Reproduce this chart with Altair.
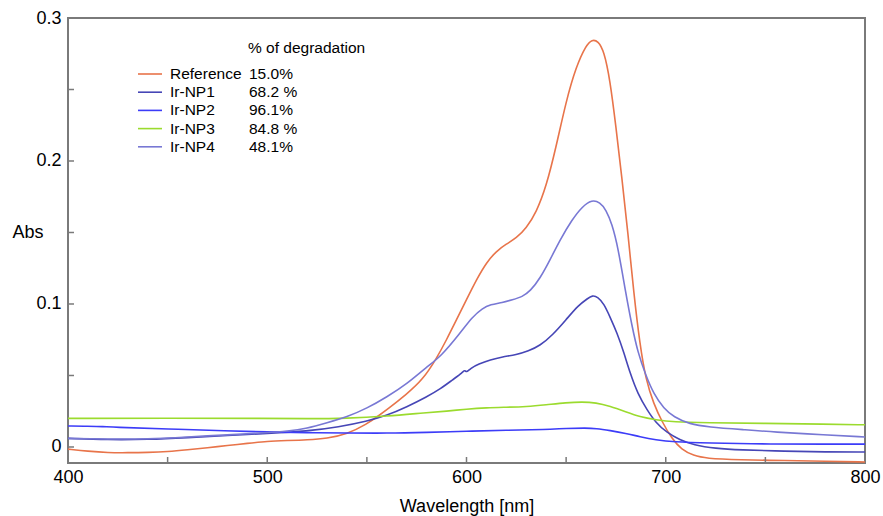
import altair as alt
import pandas as pd

# UV-Vis absorbance spectra after degradation
series_names = ["Reference", "Ir-NP1", "Ir-NP2", "Ir-NP3", "Ir-NP4"]
degradation = ["15.0%", "68.2 %", "96.1%", "84.8 %", "48.1%"]
series_colors = ["#E8744A", "#4646B6", "#3C3CF8", "#9BDB2E", "#7878D4"]

ref_wl = [400, 410, 420, 430, 440, 450, 460, 470, 480, 490, 500, 510, 520, 530, 540,
          550, 556, 560, 570, 578, 585, 590, 595, 600, 605, 610, 615, 620, 625, 630,
          635, 640, 645, 650, 655, 660, 663, 666, 669, 672, 675, 678, 681, 684, 687,
          690, 694, 698, 703, 708, 714, 720, 737, 760, 780, 800]
ref_abs = [-0.0015, -0.003, -0.004, -0.004, -0.0038, -0.0033, -0.002, -0.0005, 0.001, 0.0025,
           0.004, 0.0045, 0.005, 0.006, 0.009, 0.016, 0.022, 0.026, 0.037, 0.047,
           0.062, 0.075, 0.089, 0.103, 0.117, 0.129, 0.137, 0.142, 0.146, 0.153,
           0.164, 0.182, 0.210, 0.242, 0.266, 0.281, 0.285, 0.284, 0.277, 0.257,
           0.224, 0.188, 0.150, 0.107, 0.072, 0.047, 0.030, 0.018, 0.006, -0.002,
           -0.006, -0.008, -0.009, -0.0095, -0.010, -0.0105]

np1_wl = [400, 420, 440, 460, 480, 500, 520, 536, 550, 560, 570, 580, 587, 593, 598,
          599, 600, 602, 606, 612, 618, 625, 631, 637, 643, 650, 656, 661, 663, 666,
          669, 672, 675.5, 679, 682, 686, 690.6, 695, 700.6, 707, 714, 725, 737, 760,
          780, 800]
np1_abs = [0.006, 0.005, 0.0052, 0.0065, 0.008, 0.0095, 0.011, 0.014, 0.018, 0.022,
           0.028, 0.035, 0.0407, 0.047, 0.052, 0.054, 0.052, 0.055, 0.058, 0.061,
           0.063, 0.0646, 0.067, 0.071, 0.078, 0.089, 0.099, 0.104, 0.106, 0.105,
           0.100, 0.091, 0.080, 0.066, 0.052, 0.037, 0.026, 0.017, 0.010, 0.005,
           0.0014, -0.001, -0.002, -0.003, -0.0035, -0.0035]

np2_wl = [400, 410, 418, 422, 450, 480, 500, 520, 540, 560, 580, 600, 620, 640, 650,
          660, 665, 672, 680, 687, 695, 704, 720, 754, 780, 800]
np2_abs = [0.0147, 0.0145, 0.0143, 0.0138, 0.0126, 0.0113, 0.0105, 0.0100, 0.0098, 0.0096,
           0.0102, 0.0110, 0.0117, 0.0122, 0.0130, 0.0133, 0.0130, 0.0115, 0.0095, 0.0072,
           0.0050, 0.0035, 0.0028, 0.0020, 0.0020, 0.0020]

np3_wl = [400, 450, 500, 520, 540, 560, 580, 590, 600, 610, 620, 630, 640, 650, 658,
          665, 672, 680, 687, 695, 704, 720, 750, 780, 800]
np3_abs = [0.0200, 0.0202, 0.0200, 0.0198, 0.0200, 0.0215, 0.0240, 0.0250, 0.0265, 0.0275,
           0.0278, 0.0282, 0.0295, 0.0310, 0.0316, 0.0310, 0.0285, 0.0245, 0.0210, 0.0190,
           0.0175, 0.0170, 0.0165, 0.0160, 0.0155]

np4_wl = [400, 420, 440, 460, 480, 500, 510, 520, 530, 540, 550, 560, 570, 580, 587,
          597, 603, 608, 612, 618, 623, 628, 632, 637, 642, 647, 653, 658, 663, 667,
          670, 673, 676, 680, 683, 686, 690, 694, 699, 704, 712, 721, 740, 754, 780, 800]
np4_abs = [0.006, 0.0055, 0.0055, 0.007, 0.0085, 0.010, 0.011, 0.013, 0.017, 0.021,
           0.027, 0.035, 0.044, 0.056, 0.063, 0.080, 0.091, 0.097, 0.0996, 0.101,
           0.103, 0.105, 0.109, 0.118, 0.131, 0.145, 0.159, 0.168, 0.173, 0.171,
           0.166, 0.156, 0.140, 0.107, 0.085, 0.066, 0.050, 0.037, 0.027, 0.021,
           0.016, 0.014, 0.012, 0.0105, 0.0085, 0.007]

x_tick_values = [450, 500, 550, 600, 650, 700, 750]
y_tick_values = [0.0, 0.05, 0.1, 0.15, 0.2, 0.25]

PLOT_W, PLOT_H = 797, 445
FONT = "Liberation Sans"
FRAME = "#7a7a7a"

spectra = [ref_wl, np1_wl, np2_wl, np3_wl, np4_wl]
absorb = [ref_abs, np1_abs, np2_abs, np3_abs, np4_abs]
rows = []
for name, wl, ab in zip(series_names, spectra, absorb):
    for w, a in zip(wl, ab):
        rows.append({"series": name, "wavelength": w, "abs": a})
df = pd.DataFrame(rows)

x_scale = alt.Scale(domain=[400, 800], nice=False, zero=False)
y_scale = alt.Scale(domain=[-0.0112, 0.3], nice=False, zero=False)
color_scale = alt.Scale(domain=series_names, range=series_colors)

lines = alt.Chart(df).mark_line(strokeWidth=1.6, interpolate="basis", clip=True).encode(
    x=alt.X("wavelength:Q", scale=x_scale,
            axis=alt.Axis(values=[400, 500, 600, 700, 800], format="d", domain=False,
                          ticks=False, grid=False, labelFlush=False, labelOverlap=False,
                          labelFont=FONT, labelFontSize=18,
                          labelColor="#000", labelPadding=5, title="Wavelength [nm]",
                          titleFont=FONT, titleFontSize=18, titleFontWeight="normal",
                          titleColor="#000", titlePadding=11)),
    y=alt.Y("abs:Q", scale=y_scale,
            axis=alt.Axis(values=[0, 0.1, 0.2, 0.3], domain=False, ticks=False, grid=False,
                          labelExpr="datum.value == 0 ? '0' : format(datum.value, '.1f')",
                          labelFlush=False, labelOverlap=False,
                          labelFont=FONT, labelFontSize=18, labelColor="#000", labelPadding=7,
                          title="Abs", titleAngle=0, titleAlign="left", titleBaseline="middle",
                          titleX=-56, titleY=214, titleFont=FONT, titleFontSize=18,
                          titleFontWeight="normal", titleColor="#000")),
    color=alt.Color("series:N", scale=color_scale, legend=None),
    detail="series:N",
)

# inward-pointing ticks along the bottom and left frame
x_ticks = alt.Chart(pd.DataFrame({"w": x_tick_values})).mark_rule(
    color=FRAME, strokeWidth=1.5).encode(
    x=alt.X("w:Q", scale=x_scale), y=alt.value(PLOT_H), y2=alt.value(PLOT_H - 6))
y_ticks = alt.Chart(pd.DataFrame({"a": y_tick_values})).mark_rule(
    color=FRAME, strokeWidth=1.5).encode(
    y=alt.Y("a:Q", scale=y_scale), x=alt.value(0), x2=alt.value(6))

# legend block: header, swatches, names and degradation percentages
leg_layers = []
header = alt.Chart(pd.DataFrame({"t": ["% of degradation"]})).mark_text(
    font=FONT, fontSize=15.5, align="left", baseline="middle", color="#000").encode(
    text="t:N", x=alt.value(180), y=alt.value(30))
leg_layers.append(header)
for i, (name, pct, col) in enumerate(zip(series_names, degradation, series_colors)):
    yy = 56 + i * 18.2
    sw = alt.Chart(pd.DataFrame({"s": [name]})).mark_rule(color=col, strokeWidth=1.6).encode(
        x=alt.value(70), x2=alt.value(94), y=alt.value(yy))
    nm = alt.Chart(pd.DataFrame({"t": [name]})).mark_text(
        font=FONT, fontSize=15.5, align="left", baseline="middle", color="#000").encode(
        text="t:N", x=alt.value(102), y=alt.value(yy))
    pc = alt.Chart(pd.DataFrame({"t": [pct]})).mark_text(
        font=FONT, fontSize=15.5, align="left", baseline="middle", color="#000").encode(
        text="t:N", x=alt.value(181), y=alt.value(yy))
    leg_layers += [sw, nm, pc]

chart = alt.layer(lines, x_ticks, y_ticks, *leg_layers).properties(
    width=PLOT_W, height=PLOT_H,
    autosize=alt.AutoSizeParams(type="none"),
    padding={"left": 68, "top": 18, "right": 18, "bottom": 53},
    background="white",
).configure_view(stroke=FRAME, strokeWidth=2)

chart.save("out.html", embed_options={"renderer": "svg", "actions": False})
